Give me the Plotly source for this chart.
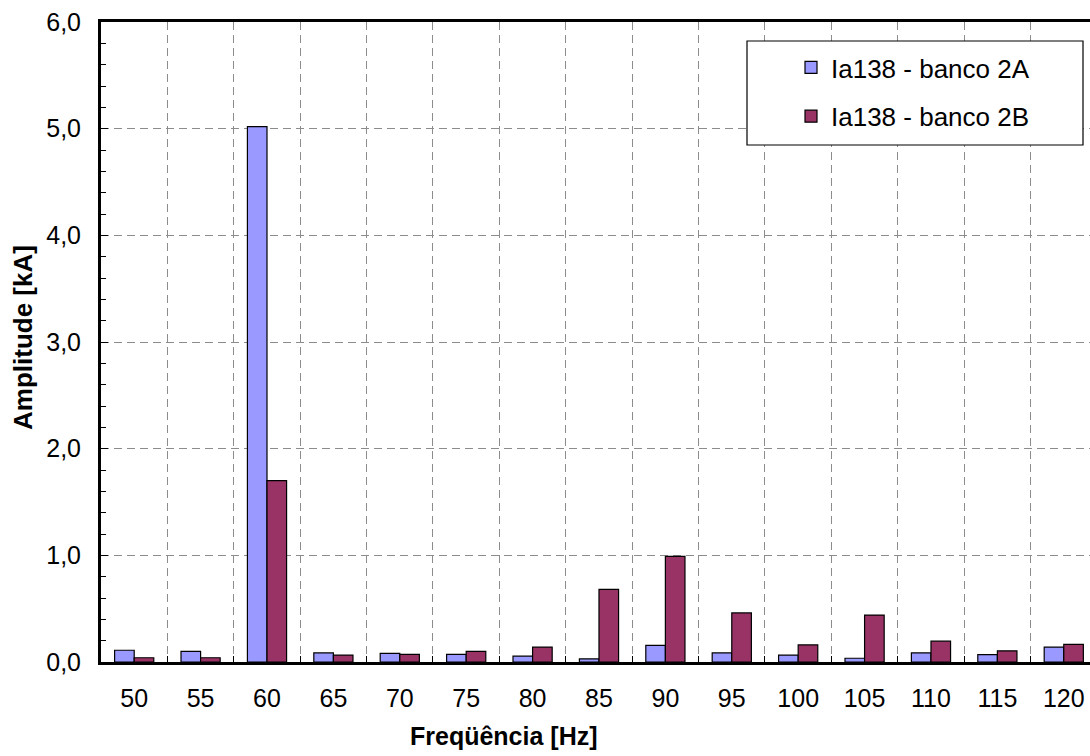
import plotly.graph_objects as go

# Frequency bins (Hz) and current amplitudes (kA) for the two capacitor banks
frequencias = ["50", "55", "60", "65", "70", "75", "80", "85", "90", "95",
               "100", "105", "110", "115", "120"]
banco_2a = [0.11, 0.10, 5.02, 0.085, 0.08, 0.072, 0.055, 0.03, 0.155, 0.085,
            0.065, 0.035, 0.085, 0.07, 0.14]
banco_2b = [0.04, 0.04, 1.70, 0.065, 0.072, 0.10, 0.14, 0.68, 0.99, 0.46,
            0.16, 0.44, 0.195, 0.105, 0.165]

nomes = ["Ia138 - banco 2A", "Ia138 - banco 2B"]
cores = ["#9999FF", "#993366"]
y_ticks = [0, 1, 2, 3, 4, 5, 6]

W, H = 1090, 756
ML, MR, MT, MB = 101, 0, 22, 94
pw, ph = W - ML - MR, H - MT - MB
FONT = "Liberation Sans, Arial, sans-serif"


def px_x(p):
    return (p - ML) / pw


def px_y(p):
    return (H - MB - p) / ph


fig = go.Figure()
for nome, valores, cor, grp in zip(nomes, [banco_2a, banco_2b], cores, ["a", "b"]):
    fig.add_trace(go.Bar(
        x=frequencias, y=valores, name=nome, legendgroup=grp,
        marker=dict(color=cor, line=dict(color="black", width=1.2)),
    ))

grid = dict(showgrid=True, gridcolor="#8c8c8c", gridwidth=1, griddash="8px,5px")

fig.update_layout(
    width=W, height=H,
    margin=dict(l=ML, r=MR, t=MT, b=MB),
    paper_bgcolor="white", plot_bgcolor="white",
    separators=",.",
    barmode="group", bargap=0.41, bargroupgap=0,
    font=dict(family=FONT, size=25, color="black"),
    showlegend=True,
    legend=dict(
        x=px_x(791), y=px_y(44), xanchor="left", yanchor="top",
        bgcolor="rgba(0,0,0,0)", borderwidth=0,
        traceorder="grouped", tracegroupgap=12,
        font=dict(size=26),
    ),
    xaxis=dict(
        type="category", range=[-0.5, 14.395],
        tickson="boundaries", ticks="inside", ticklen=6, tickcolor="black",
        ticklabelstandoff=12,
        showline=True, linecolor="black", linewidth=3, mirror=True,
        zeroline=False,
        **grid,
    ),
    yaxis=dict(
        range=[0, 6], tickvals=y_ticks, tickformat=".1f",
        ticks="inside", ticklen=7, tickcolor="black",
        ticklabelstandoff=12,
        minor=dict(dtick=0.2, ticks="inside", ticklen=5, tickcolor="black",
                   showgrid=False),
        showline=True, linecolor="black", linewidth=3,
        zeroline=False,
        **grid,
    ),
    shapes=[dict(
        type="rect", xref="paper", yref="paper", layer="above",
        x0=px_x(747), x1=px_x(1083), y0=px_y(145), y1=px_y(41),
        fillcolor="white", line=dict(color="black", width=1.2),
    )],
    annotations=[
        dict(text="<b>Freqüência [Hz]</b>", xref="paper", yref="paper",
             x=px_x(504), y=px_y(736), xanchor="center", yanchor="middle",
             showarrow=False, font=dict(size=25)),
        dict(text="<b>Amplitude [kA]</b>", xref="paper", yref="paper",
             x=px_x(23), y=px_y(338), xanchor="center", yanchor="middle",
             textangle=-90, showarrow=False, font=dict(size=26)),
    ],
)

fig.write_html("out.html")
